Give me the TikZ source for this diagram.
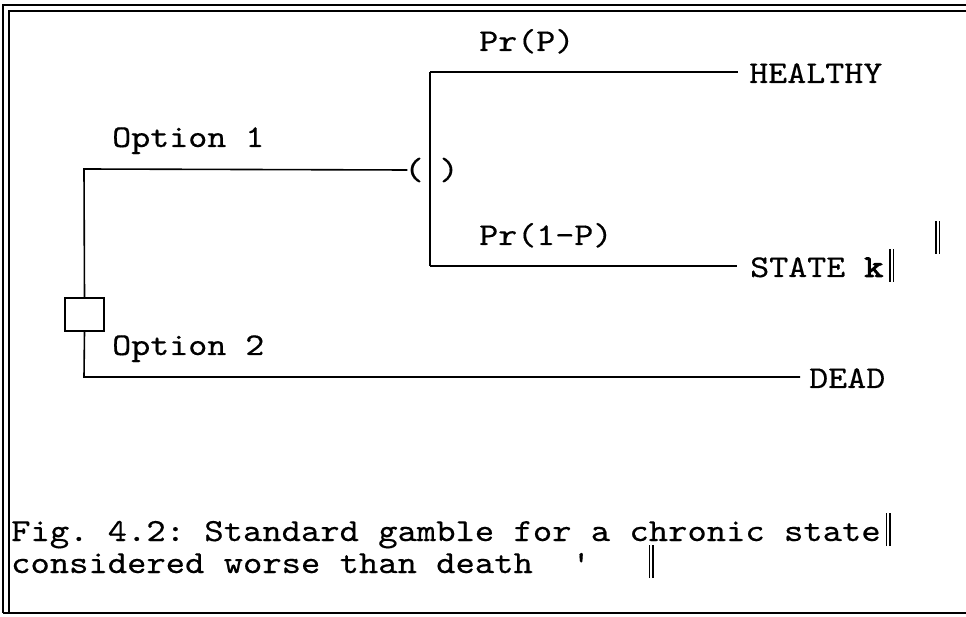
\documentclass[tikz,border=0pt]{standalone}
\usepackage{fontspec}
% typewriter face widened to a Courier-like pitch of 0.6em
\newfontfamily\courier{lmmono10-regular.otf}[FakeStretch=1.143,FakeBold=0.4]
\newfontfamily\courierbold{lmmono10-regular.otf}[FakeStretch=1.143,FakeBold=3]
% a pair of thin vertical strokes set inline with the text
\newcommand\dblbar{\rule[-5pt]{1.4pt}{33pt}\hspace{2.2pt}\rule[-5pt]{1.4pt}{33pt}}

\begin{document}
\begin{tikzpicture}[x=1pt,y=-1pt,
  lbl/.style={font=\courier\fontsize{31.7}{36}\selectfont\frenchspacing,
              inner sep=0pt, anchor=base west},
  caption/.style={lbl, font=\courier\fontsize{32.2}{36}\selectfont\frenchspacing},
  branch/.style={line width=1.6pt},
  frameline/.style={line width=1.5pt},
  decision/.style={draw, line width=1.6pt, minimum width=39pt,
                   minimum height=33pt, inner sep=0pt}]
\useasboundingbox (0,0) rectangle (966,617);

% page frame: double rule at top and left, single rule at the bottom
\draw[frameline] (966,5) -- (3,5) -- (3,613);
\draw[frameline] (966,11) -- (9,11) -- (9,613);
\draw[frameline] (3,613) -- (966,613);

% decision node and its two options
\node[decision] (dec) at (84.5,314.5) {};
\coordinate (opt1) at (84,169);
\coordinate (opt2) at (84,377);

% chance node: the branch line passes between the brackets
\node[lbl, anchor=center] (lpar) at (414,170) {(};
\node[lbl, anchor=center] (rpar) at (449,170) {)};
\coordinate (ctop) at (430,72);
\coordinate (cbot) at (430,266);

% outcomes
\node[lbl] (healthy) at (749,83) {HEALTHY};
\node[lbl] (state) at (750,277) {STATE {\courierbold k}\hspace{6pt}\dblbar};
\node[lbl] (dead) at (809,388) {DEAD};

% branch labels
\node[lbl] (lo1) at (112,147) {Option 1};
\node[lbl] (lo2) at (112,355) {Option 2};
\node[lbl] (lp) at (479,51) {Pr(P)};
\node[lbl] (lq) at (479,245) {Pr(1-P)};
\node[lbl] (mark) at (935,249) {\dblbar};

% connectors
\draw[branch] (dec.north) -- (opt1) -- ([xshift=3pt]lpar.west);
\draw[branch] (dec.south) -- (opt2) -- ([xshift=-9pt]opt2 -| dead.west);
\draw[branch] (ctop) -- (cbot);
\draw[branch] (ctop) -- ([xshift=-11pt]ctop -| healthy.west);
\draw[branch] (cbot) -- ([xshift=-13pt]cbot -| state.west);

% caption
\node[caption] (cap1) at (11,541) {Fig. 4.2: Standard gamble for a chronic state\hspace{5pt}\dblbar};
\node[caption] (cap2) at (11,573) {considered~worse~than~death~~'~~~\dblbar};
\end{tikzpicture}
\end{document}
